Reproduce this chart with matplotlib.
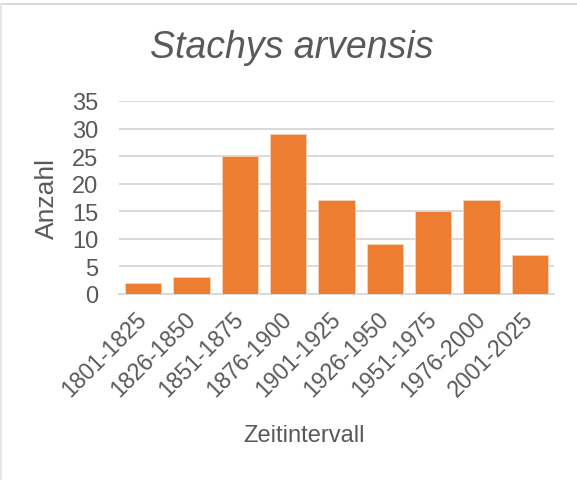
import matplotlib
matplotlib.use("Agg")
import matplotlib.pyplot as plt
from matplotlib.lines import Line2D
from matplotlib.transforms import ScaledTranslation

# Anzahl der Funde je Zeitintervall
intervalle = ["1801-1825", "1826-1850", "1851-1875", "1876-1900", "1901-1925",
              "1926-1950", "1951-1975", "1976-2000", "2001-2025"]
anzahl = [2, 3, 25, 29, 17, 9, 15, 17, 7]

plt.rcParams["font.family"] = ["Liberation Sans", "DejaVu Sans"]
grau = "#595959"

fig = plt.figure(figsize=(5.77, 4.81), dpi=100)
ax = fig.add_axes([119 / 577, 1 - 295 / 481, 435 / 577, 193 / 481])

pos = range(len(intervalle))
ax.bar(pos, anzahl, width=0.75, color="#ED7D31", edgecolor="#f8d3b8", linewidth=0.6, zorder=3)

ax.set_xlim(-0.5, len(intervalle) - 0.5)
ax.set_ylim(0, 35)
ax.set_yticks(range(0, 36, 5))
ax.grid(axis="y", color="#d9d9d9", linewidth=1.4, zorder=0)
for s in ["top", "right", "left"]:
    ax.spines[s].set_visible(False)
ax.spines["bottom"].set_color("#d9d9d9")
ax.spines["bottom"].set_linewidth(1.4)
ax.tick_params(length=0, labelsize=17, labelcolor=grau)
ax.tick_params(axis="y", pad=15)

ax.set_xticks(list(pos))
ax.set_xticklabels(intervalle, rotation=45, ha="right", rotation_mode="anchor")
versatz = ScaledTranslation(-0.08, -0.08, fig.dpi_scale_trans)
for lab in ax.get_xticklabels():
    lab.set_transform(lab.get_transform() + versatz)
    lab.set_fontsize(16.5)

ax.set_ylabel("Anzahl", fontsize=19, color=grau, labelpad=9)

fig.text(291.5 / 577, 1 - 48 / 481, "Stachys arvensis", fontsize=27, style="italic",
         color=grau, ha="center", va="center")
fig.text(304.5 / 577, 1 - 436 / 481, "Zeitintervall", fontsize=17, color=grau,
         ha="center", va="center")

# Rahmen oben und links
fig.add_artist(Line2D([0, 1], [1 - 5 / 481, 1 - 5 / 481], transform=fig.transFigure,
                      color="#d9d9d9", linewidth=1.5))
fig.add_artist(Line2D([1 / 577, 1 / 577], [0, 1 - 5 / 481], transform=fig.transFigure,
                      color="#e6e6e6", linewidth=1.5))

fig.savefig("out.png", dpi=100)
